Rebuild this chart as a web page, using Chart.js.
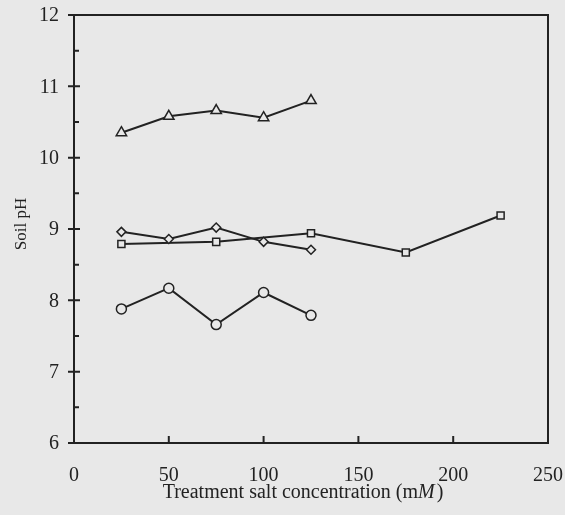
<!DOCTYPE html>
<html>
<head>
<meta charset="utf-8">
<title>Soil pH</title>
<script src="https://cdn.jsdelivr.net/npm/chart.js@4/dist/chart.umd.min.js"></script>
<style>
    html, body { margin: 0; padding: 0; background: #e8e8e8; }
    #wrap { width: 565px; height: 515px; }
</style>
</head>
<body>
<div id="wrap"><canvas id="chart" width="565" height="515"></canvas></div>
<script>
// Treatment salt concentrations (mM)
const concFive = [25, 50, 75, 100, 125];
const concSquare = [25, 75, 125, 175, 225];

// Soil pH
const phTriangle = [10.35, 10.58, 10.66, 10.56, 10.80];
const phDiamond = [8.96, 8.86, 9.02, 8.82, 8.71];
const phSquare = [8.79, 8.82, 8.94, 8.67, 9.19];
const phCircle = [7.88, 8.17, 7.66, 8.11, 7.79];

// Axis ticks
const xTicks = [0, 50, 100, 150, 200, 250];
const yTicks = [6, 7, 8, 9, 10, 11, 12];

const INK = '#222';
const PAPER = '#e8e8e8';
const SERIF = '"Liberation Serif", "Times New Roman", serif';

function toPoints(xs, ys) {
    return xs.map((x, i) => ({ x: x, y: ys[i] }));
}

function series(xs, ys, style, radius) {
    return {
        data: toPoints(xs, ys),
        borderColor: INK,
        borderWidth: 2,
        pointStyle: style,
        pointRadius: radius,
        pointBorderWidth: 1.5,
        pointBorderColor: INK,
        pointBackgroundColor: PAPER,
        tension: 0
    };
}

// Draws the frame, tick marks, tick labels and the axis titles
const framePlugin = {
    id: 'frame',
    afterDraw(chart) {
        const ctx = chart.ctx;
        const a = chart.chartArea;
        const xs = chart.scales.x;
        const ys = chart.scales.y;
        ctx.save();
        ctx.strokeStyle = INK;
        ctx.lineWidth = 2;
        ctx.strokeRect(a.left, a.top, a.right - a.left, a.bottom - a.top);

        ctx.beginPath();
        // y major ticks cross the axis, half steps point inward only
        yTicks.forEach(v => {
            const py = ys.getPixelForValue(v);
            ctx.moveTo(a.left - 6, py);
            ctx.lineTo(a.left + 6, py);
            if (v < yTicks[yTicks.length - 1]) {
                const hy = ys.getPixelForValue(v + 0.5);
                ctx.moveTo(a.left, hy);
                ctx.lineTo(a.left + 5, hy);
            }
        });
        // x ticks point up into the plot
        xTicks.slice(1, -1).forEach(v => {
            const px = xs.getPixelForValue(v);
            ctx.moveTo(px, a.bottom);
            ctx.lineTo(px, a.bottom - 7);
        });
        ctx.stroke();

        // tick labels
        ctx.fillStyle = INK;
        ctx.font = '20px ' + SERIF;
        ctx.textBaseline = 'middle';
        ctx.textAlign = 'right';
        yTicks.forEach(v => ctx.fillText(String(v), a.left - 15, ys.getPixelForValue(v) + 1));
        ctx.textAlign = 'center';
        xTicks.forEach(v => ctx.fillText(String(v), xs.getPixelForValue(v), a.bottom + 33));

        // x axis title with italic M
        ctx.textAlign = 'left';
        ctx.textBaseline = 'alphabetic';
        const plain = '20px ' + SERIF;
        const italic = 'italic 20px ' + SERIF;
        const parts = [['Treatment salt concentration (m', plain], ['M', italic], [')', plain]];
        let total = 0;
        parts.forEach(p => { ctx.font = p[1]; total += ctx.measureText(p[0]).width + (p[0] === 'M' ? 2 : 0); });
        let x = (a.left + a.right) / 2 - 8 - total / 2;
        parts.forEach(p => {
            ctx.font = p[1];
            ctx.fillText(p[0], x, 498);
            x += ctx.measureText(p[0]).width + (p[0] === 'M' ? 2 : 0);
        });

        // y axis title
        ctx.translate(22, (a.top + a.bottom) / 2 - 5);
        ctx.rotate(-Math.PI / 2);
        ctx.font = '17px ' + SERIF;
        ctx.textAlign = 'center';
        ctx.textBaseline = 'middle';
        ctx.fillText('Soil pH', 0, 0);
        ctx.restore();
    }
};

const ctx = document.getElementById('chart').getContext('2d');
const chart = new Chart(ctx, {
    type: 'line',
    data: {
        datasets: [
            series(concFive, phTriangle, 'triangle', 6),
            series(concFive, phDiamond, 'rectRot', 4.5),
            series(concSquare, phSquare, 'rect', 5),
            series(concFive, phCircle, 'circle', 5)
        ]
    },
    options: {
        responsive: false,
        animation: false,
        layout: { padding: { top: 15, right: 17, left: 0, bottom: 0 } },
        scales: {
            x: {
                type: 'linear',
                min: 0,
                max: 250,
                grid: { display: false, drawTicks: false },
                border: { display: false },
                ticks: { display: false },
                afterFit(scale) { scale.height = 72; }
            },
            y: {
                type: 'linear',
                min: 6,
                max: 12,
                grid: { display: false, drawTicks: false },
                border: { display: false },
                ticks: { display: false },
                afterFit(scale) { scale.width = 74; }
            }
        },
        plugins: {
            legend: { display: false },
            tooltip: { enabled: false }
        }
    },
    plugins: [framePlugin]
});
</script>
</body>
</html>
